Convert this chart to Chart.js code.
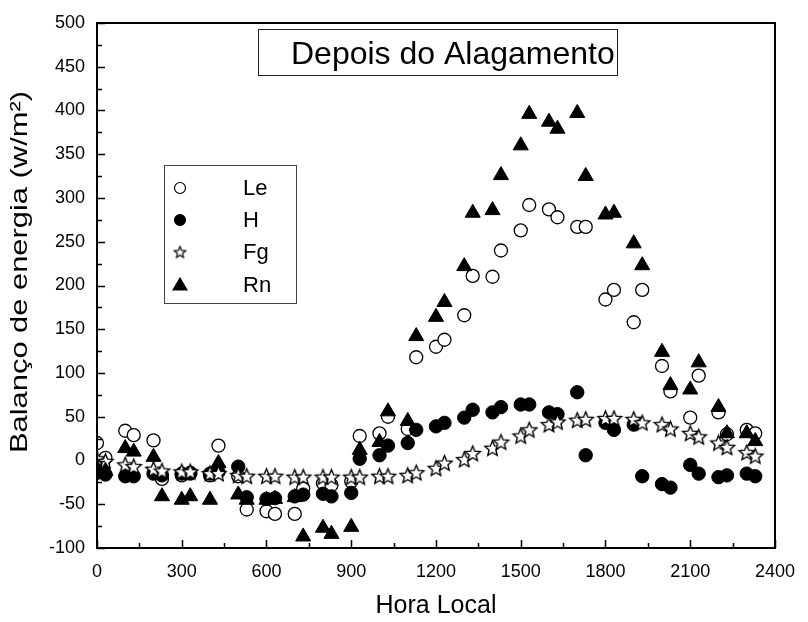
<!DOCTYPE html>
<html><head><meta charset="utf-8">
<script src="https://cdn.jsdelivr.net/npm/chart.js@4/dist/chart.umd.min.js"></script>
<style>html,body{margin:0;padding:0;background:#fff}#wrap{width:808px;height:622px}</style>
</head><body><div id="wrap"><canvas id="c" width="808" height="622"></canvas></div>
<script>
const times = [0,30,100,130,200,230,300,330,400,430,500,530,600,630,700,730,800,830,900,930,1000,1030,1100,1130,1200,1230,1300,1330,1400,1430,1500,1530,1600,1630,1700,1730,1800,1830,1900,1930,2000,2030,2100,2130,2200,2230,2300,2330];
const leValues = [20,3,34,29,23,-21,-17,-15,-17,17,-18,-56,-58,-61,-61,-32,-26,-28,-24,28,31,50,36,118,130,138,166,211,210,240,263,292,287,278,267,267,184,195,158,195,108,79,49,97,55,30,35,31];
const hValues = [-14,-16,-18,-18,-15,-17,-15,-14,-15,-13,-7,-42,-44,-43,-41,-39,-38,-41,-37,2,6,17,20,35,39,43,49,58,55,61,64,64,55,53,78,6,43,35,41,-18,-27,-31,-5,-15,-19,-17,-15,-18];
const fgValues = [2,-1,-5,-7,-10,-12,-13,-13,-15,-15,-17,-18,-18,-18,-19,-19,-19,-19,-19,-19,-18,-18,-17,-14,-9,-3,1,8,14,21,28,35,41,44,46,47,48,48,47,43,41,36,31,27,20,15,9,5];
const rnValues = [-10,-12,14,10,4,-41,-45,-41,-45,-3,-39,-45,-45,-44,-42,-87,-77,-84,-76,12,21,56,45,142,164,181,222,283,286,326,360,396,387,379,397,325,281,283,248,223,124,86,81,112,61,31,31,22];
const seriesNames = ['Le','H','Fg','Rn'];
const xTickStep = 300, yTickStep = 50;
const chartTitle = 'Depois do Alagamento';
const xTitle = 'Hora Local';
const yTitle = 'Balanço de energia (w/m²)';

const FONT = "'Liberation Sans', Arial, sans-serif";

function makeStar(outer, inner, lw){
  const s = Math.ceil(outer*2+lw*2+2);
  const cv = document.createElement('canvas');
  cv.width = s; cv.height = s;
  const g = cv.getContext('2d');
  g.beginPath();
  for(let i=0;i<10;i++){
    const r = i%2===0?outer:inner;
    const a = -Math.PI/2 + i*Math.PI/5;
    const x = s/2 + r*Math.cos(a), y = s/2 + r*Math.sin(a) + 0.6;
    if(i===0) g.moveTo(x,y); else g.lineTo(x,y);
  }
  g.closePath();
  g.fillStyle='#fff'; g.fill();
  g.lineJoin='miter';
  g.lineWidth=lw; g.strokeStyle='#000'; g.stroke();
  return cv;
}
const starImg = makeStar(8, 3.6, 1.4);
const starSmall = makeStar(6, 2.7, 1.2);

function pts(vals){ return times.map((t,i)=>({x:t,y:vals[i]})); }

const decor = {
  id:'decor',
  afterDraw(chart){
    const ctx = chart.ctx, a = chart.chartArea;
    const xs = chart.scales.x, ys = chart.scales.y;
    ctx.save();
    ctx.strokeStyle='#000';
    ctx.lineWidth=1.5;
    ctx.beginPath();
    for(let v=xs.min; v<=xs.max; v+=xTickStep/2){
      const px = Math.round(xs.getPixelForValue(v))+0.5;
      const len = (v % xTickStep===0)?8:5;
      ctx.moveTo(px,a.bottom); ctx.lineTo(px,a.bottom-len);
    }
    for(let v=ys.min; v<=ys.max; v+=yTickStep/2){
      const py = Math.round(ys.getPixelForValue(v))+0.5;
      const len = (v % yTickStep===0)?8:5;
      ctx.moveTo(a.left,py); ctx.lineTo(a.left+len,py);
    }
    ctx.stroke();
    ctx.lineWidth=2;
    ctx.strokeRect(a.left, a.top, a.right-a.left, a.bottom-a.top);
    // y axis title (stretched to match reference)
    ctx.save();
    ctx.translate(20, 272);
    ctx.rotate(-Math.PI/2);
    ctx.font = "24px "+FONT;
    const w = ctx.measureText(yTitle).width;
    ctx.scale(362/w, 1);
    ctx.fillStyle='#000';
    ctx.textAlign='center'; ctx.textBaseline='middle';
    ctx.fillText(yTitle, 0, 0);
    ctx.restore();
    // title box
    ctx.lineWidth=1;
    ctx.strokeStyle='#222';
    ctx.strokeRect(258.5,29.5,359,46);
    ctx.fillStyle='#000';
    ctx.font = "32px "+FONT;
    ctx.textBaseline='middle';
    ctx.textAlign='left';
    ctx.fillText(chartTitle, 291, 55);
    // legend
    ctx.strokeStyle='#444';
    ctx.strokeRect(164.5,165.5,132,138);
    const rows = [188,220,252,285];
    const H = Chart.helpers;
    chart.data.datasets.forEach((ds,i)=>{
      const y = rows[i];
      if(i===2){ ctx.drawImage(starSmall, 180-starSmall.width/2, y-starSmall.height/2); }
      else {
        const opts = {pointStyle: ds.pointStyle, radius: i===3?8:5.5, borderWidth:1.2, rotation:0};
        ctx.fillStyle = ds.pointBackgroundColor; ctx.strokeStyle='#000'; ctx.lineWidth=1.2;
        H.drawPoint(ctx, opts, 180, i===3?y+1:y);
      }
      ctx.fillStyle='#000';
      ctx.font = "22px "+FONT;
      ctx.textAlign='left'; ctx.textBaseline='middle';
      ctx.fillText(seriesNames[i], 243, y+1);
    });
    ctx.restore();
  }
};

new Chart(document.getElementById('c'), {
  type:'scatter',
  data:{datasets:[
    {label:seriesNames[0], data:pts(leValues), pointStyle:'circle', pointRadius:6.5, pointBackgroundColor:'#fff', pointBorderColor:'#000', pointBorderWidth:1.3, order:4},
    {label:seriesNames[1], data:pts(hValues), pointStyle:'circle', pointRadius:6.7, pointBackgroundColor:'#000', pointBorderColor:'#000', pointBorderWidth:1, order:3},
    {label:seriesNames[2], data:pts(fgValues), pointStyle:starImg, pointRadius:8, pointBackgroundColor:'#fff', pointBorderColor:'#000', order:2},
    {label:seriesNames[3], data:pts(rnValues), pointStyle:'triangle', pointRadius:8.7, pointBackgroundColor:'#000', pointBorderColor:'#000', pointBorderWidth:1, order:1}
  ]},
  options:{
    responsive:false, animation:false, devicePixelRatio:1,
    layout:{padding:{top:23,right:25,left:0,bottom:0}},
    plugins:{legend:{display:false}, tooltip:{enabled:false}, title:{display:false}},
    scales:{
      x:{type:'linear', min:0, max:2400,
        grid:{display:false, drawTicks:false}, border:{display:false},
        ticks:{stepSize:xTickStep, padding:13, color:'#000', font:{size:18, family:FONT}, maxRotation:0, autoSkip:false,
          callback:(v)=>String(v)},
        title:{display:true, text:xTitle, color:'#000', font:{size:25, family:FONT}, padding:{top:0,bottom:1}},
        afterFit(s){ s.height = 74; }
      },
      y:{type:'linear', min:-100, max:500,
        grid:{display:false, drawTicks:false}, border:{display:false},
        ticks:{stepSize:yTickStep, padding:12, color:'#000', font:{size:18, family:FONT}, autoSkip:false,
          callback:(v)=>String(v)},
        title:{display:false},
        afterFit(s){ s.width = 97; }
      }
    }
  },
  plugins:[decor]
});
</script>
</body></html>
